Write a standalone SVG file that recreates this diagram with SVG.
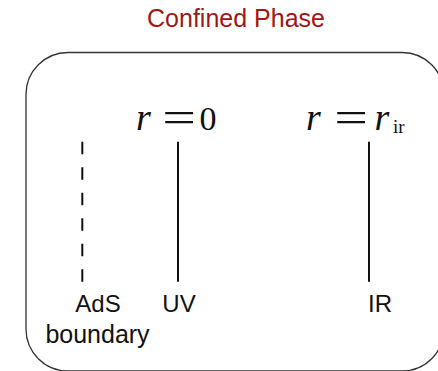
<svg xmlns="http://www.w3.org/2000/svg" width="438" height="371" viewBox="0 0 438 371">
<style>
.lbl{font-family:"Liberation Sans",Arial,sans-serif;font-size:24px;fill:#111;text-anchor:middle}
.math{font-family:"Liberation Serif","Times New Roman",serif;font-size:34px;fill:#111}
.it{font-style:italic;font-size:38px}
.eq{font-size:46px;text-anchor:middle}
.ln{stroke:#111;stroke-width:2;fill:none}
</style>
<rect width="438" height="371" fill="#ffffff"/>
<g id="title">
<text x="236" y="27" style="font-family:'Liberation Sans',Arial,sans-serif;font-size:25px;fill:#9e1616;text-anchor:middle">Confined Phase</text>
</g>
<g id="frame">
<rect x="26" y="52.5" width="418" height="318.5" rx="42" ry="42" fill="none" stroke="#333" stroke-width="1.3"/>
</g>
<g id="ads-boundary">
<line class="ln" x1="82.3" y1="141.7" x2="82.3" y2="282" stroke-dasharray="12.5 13"/>
<text class="lbl" x="98" y="312.3">AdS</text>
<text class="lbl" x="97.5" y="343.3" style="font-size:25px">boundary</text>
</g>
<g id="uv">
<line class="ln" x1="178" y1="141.7" x2="178" y2="281.7"/>
<text class="lbl" x="179" y="312.3">UV</text>
<text class="math it" x="136" y="130">r</text>
<text class="math eq" x="0" y="133.5" transform="translate(179 0) scale(1.3 1)">=</text>
<text class="math" x="208" y="130" text-anchor="middle">0</text>
</g>
<g id="ir">
<line class="ln" x1="369" y1="141.7" x2="369" y2="281.7"/>
<text class="lbl" x="380" y="312.3">IR</text>
<text class="math it" x="306" y="130">r</text>
<text class="math eq" x="0" y="133.5" transform="translate(351 0) scale(1.3 1)">=</text>
<text class="math it" x="374.5" y="130">r</text>
<text class="math" x="393" y="133" style="font-size:19px">ir</text>
</g>
</svg>
